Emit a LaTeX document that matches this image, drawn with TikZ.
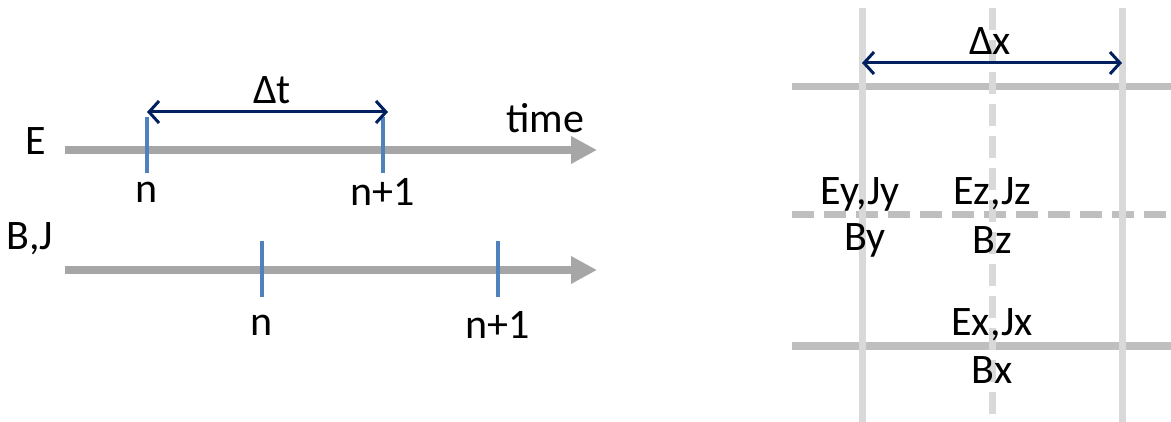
\documentclass[tikz,border=0pt]{standalone}
\usepackage{fontspec}
\setmainfont{Carlito}
\usetikzlibrary{arrows.meta}
\definecolor{axisgray}{HTML}{A6A6A6}
\definecolor{tickblue}{HTML}{4F81BD}
\definecolor{navy}{HTML}{002060}
\definecolor{hgray}{HTML}{BFBFBF}
\definecolor{vgray}{HTML}{D9D9D9}
\begin{document}
\begin{tikzpicture}[x=1pt,y=-1pt,
  lbl/.style={font=\fontsize{42}{44}\selectfont, inner sep=0pt, text=black},
  axis/.style={draw=axisgray, line width=8pt, -{Triangle[length=26pt,width=26pt]}},
  tick/.style={draw=tickblue, line width=4pt},
  span/.style={draw=navy, line width=3pt, {Straight Barb[length=10pt,width=22pt]}-{Straight Barb[length=10pt,width=22pt]}},
  hline/.style={draw=hgray, line width=7pt},
  vline/.style={draw=vgray, line width=7pt},
  dashline/.style={dash pattern=on 22pt off 10pt}]
\useasboundingbox (0,0) rectangle (1171,422);
% left: time axes
\coordinate (e0) at (65,150);
\coordinate (e1) at (597,150);
\coordinate (b0) at (65,270);
\coordinate (b1) at (597,270);
\draw[axis] (e0) -- (e1);
\draw[axis] (b0) -- (b1);
\coordinate (et1a) at (147,117); \coordinate (et1b) at (147,173);
\coordinate (et2a) at (383,117); \coordinate (et2b) at (383,173);
\coordinate (bt1a) at (262,241); \coordinate (bt1b) at (262,297);
\coordinate (bt2a) at (498,241); \coordinate (bt2b) at (498,297);
\draw[tick] (et1a) -- (et1b);
\draw[tick] (et2a) -- (et2b);
\draw[tick] (bt1a) -- (bt1b);
\draw[tick] (bt2a) -- (bt2b);
\coordinate (dt0) at (147,112);
\coordinate (dt1) at (388,112);
\draw[span] (dt0) -- (dt1);
\node[lbl] (dtl) at (272,90) {Δt};
\node[lbl] (timel) at (545,118) {time};
\node[lbl] (el) at (36,141) {E};
\node[lbl] (bjl) at (30,239) {B,J};
\node[lbl] (n1) at (147,192) {n};
\node[lbl] (n2) at (383,192) {n+1};
\node[lbl] (n3) at (262,325) {n};
\node[lbl] (n4) at (498,325) {n+1};
% right: grid
\coordinate (h1a) at (792,87); \coordinate (h1b) at (1171,87);
\coordinate (h2a) at (792,215); \coordinate (h2b) at (1171,215);
\coordinate (h3a) at (792,346); \coordinate (h3b) at (1171,346);
\draw[hline] (h1a) -- (h1b);
\draw[hline,dashline] (h2a) -- (h2b);
\draw[hline] (h3a) -- (h3b);
\coordinate (v1a) at (862,8); \coordinate (v1b) at (862,422);
\coordinate (v2a) at (992,8); \coordinate (v2b) at (992,416);
\coordinate (v3a) at (1122,8); \coordinate (v3b) at (1122,422);
\draw[vline] (v1a) -- (v1b);
\draw[vline,dashline] (v2a) -- (v2b);
\draw[vline] (v3a) -- (v3b);
\coordinate (dx0) at (862,63);
\coordinate (dx1) at (1122,63);
\draw[span] (dx0) -- (dx1);
\node[lbl] (dxl) at (990,41) {Δx};
\node[lbl] (eyl) at (860,194) {Ey,Jy};
\node[lbl] (byl) at (865,240) {By};
\node[lbl] (ezl) at (992,194) {Ez,Jz};
\node[lbl] (bzl) at (992,240) {Bz};
\node[lbl] (exl) at (992,325) {Ex,Jx};
\node[lbl] (bxl) at (992,370) {Bx};
\end{tikzpicture}
\end{document}
